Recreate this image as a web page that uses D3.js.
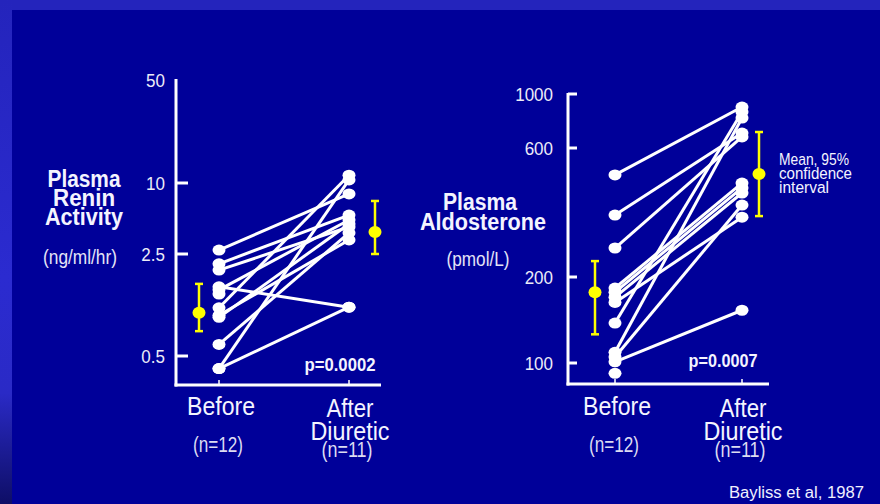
<!DOCTYPE html>
<html><head><meta charset="utf-8">
<script src="https://cdn.jsdelivr.net/npm/d3@7"></script>
<style>html,body{margin:0;padding:0;background:#000099;}svg{display:block;}</style>
</head><body>
<script>
// ---------- DATA ----------
const categories = ["Before", "After"];
const reninTicks = [50, 10, 2.5, 0.5];
const reninBefore = [2.70, 2.14, 1.94, 1.49, 1.42, 1.33, 1.07, 0.95, 0.92, 0.60, 0.41, 0.41];
const reninAfter  = [8.07, 5.35, 4.24, 1.08, 4.86, null, 11.3, 3.29, 4.49, 3.77, 10.5, 1.08];
const reninMean = [0.99, 3.84];
const reninLow  = [0.74, 2.5];
const reninHigh = [1.56, 7.04];
const aldoTicks = [1000, 600, 200, 100];
const aldoBefore = [477, 339, 256, 183, 177, 170, 163, 138, 109, 105, 101, 92];
const aldoAfter  = [884, 691, 666, 445, 427, 409, 333, 844, 797, 369, 153, null];
const aldoMean = [177, 481];
const aldoLow  = [126, 336];
const aldoHigh = [229, 698];

const W = 880, H = 504;
const svg = d3.select("body").append("svg").attr("width", W).attr("height", H);

// background
const defs = svg.append("defs");
const lg = defs.append("linearGradient").attr("id", "band").attr("x1", 0).attr("y1", 0).attr("x2", 0).attr("y2", 1);
[[0, "#2424bc"], [0.55, "#2b2bd0"], [0.78, "#2a2ac6"], [1, "#0e0e66"]].forEach(([o, c]) =>
  lg.append("stop").attr("offset", o).attr("stop-color", c));
svg.append("rect").attr("width", W).attr("height", H).attr("fill", "#000099");
svg.append("rect").attr("width", W).attr("height", 10).attr("fill", "#2424bc");
svg.append("rect").attr("width", 12).attr("height", H).attr("fill", "url(#band)");

const SANS = "'Liberation Sans', Arial, sans-serif";
function txt(str, x, y, o) {
  const g = svg.append("g").attr("transform", `translate(${x},${y}) scale(1,${o.sy || 1})`);
  const t = g.append("text").text(str)
    .attr("font-family", SANS).attr("font-size", o.size)
    .attr("font-weight", o.weight || "normal")
    .attr("text-anchor", o.anchor || "middle")
    .attr("fill", o.fill || "#f4f4ff");
  if (o.len) t.attr("textLength", o.len).attr("lengthAdjust", "spacingAndGlyphs");
  return t;
}

function panel(cfg) {
  const { y, x, xm, before, after, mean, low, high, ticks, tickX, axisX, axisBottom, axisRight } = cfg;
  const g = svg.append("g");
  // axes
  g.append("line").attr("x1", axisX).attr("x2", axisX).attr("y1", y(ticks[0]) - 1).attr("y2", axisBottom + 1.5)
    .attr("stroke", "#fff").attr("stroke-width", 3);
  g.append("line").attr("x1", axisX - 1.5).attr("x2", axisRight).attr("y1", axisBottom).attr("y2", axisBottom)
    .attr("stroke", "#fff").attr("stroke-width", 3);
  ticks.forEach((t, i) => {
    if (!(cfg.noTopTick && i === 0))
      g.append("line").attr("x1", axisX).attr("x2", axisX + cfg.tickLen).attr("y1", y(t)).attr("y2", y(t))
        .attr("stroke", "#fff").attr("stroke-width", 3);
    txt(String(t), tickX, y(t) + 6.5, { size: 17, anchor: "end", sy: 1.08, fill: "#ececf8" });
  });
  categories.forEach(c => {
    g.append("line").attr("x1", x(c)).attr("x2", x(c)).attr("y1", axisBottom - 5).attr("y2", axisBottom)
      .attr("stroke", "#fff").attr("stroke-width", 1.5);
  });
  // connecting lines
  before.forEach((b, i) => {
    if (after[i] == null) return;
    g.append("line").attr("x1", x("Before")).attr("y1", y(b)).attr("x2", x("After")).attr("y2", y(after[i]))
      .attr("stroke", "#fff").attr("stroke-width", 3);
  });
  // points
  before.forEach(b => g.append("ellipse").attr("cx", x("Before")).attr("cy", y(b)).attr("rx", 6.5).attr("ry", 5.5).attr("fill", "#fff"));
  after.forEach(a => { if (a != null) g.append("ellipse").attr("cx", x("After")).attr("cy", y(a)).attr("rx", 6.5).attr("ry", 5.5).attr("fill", "#fff"); });
  // mean + CI
  categories.forEach((c, i) => {
    const cx = xm(c);
    g.append("line").attr("x1", cx).attr("x2", cx).attr("y1", y(low[i])).attr("y2", y(high[i]))
      .attr("stroke", "#ffff00").attr("stroke-width", 2.5);
    [low[i], high[i]].forEach(v => g.append("line").attr("x1", cx - 4).attr("x2", cx + 4).attr("y1", y(v)).attr("y2", y(v))
      .attr("stroke", "#ffff00").attr("stroke-width", 2.5));
    g.append("ellipse").attr("cx", cx).attr("cy", y(mean[i])).attr("rx", 6.5).attr("ry", 6).attr("fill", "#ffff00");
  });
}

// ---------- LEFT PANEL ----------
const yRenin = d3.scaleLog().domain([0.5, 2.5, 10, 50]).range([356, 254, 183, 80]);
const xL = d3.scalePoint().domain(categories).range([219, 349]);
const xLm = d3.scalePoint().domain(categories).range([199, 375]);
panel({ y: yRenin, x: xL, xm: xLm, before: reninBefore, after: reninAfter, mean: reninMean, low: reninLow, high: reninHigh,
  ticks: reninTicks, tickX: 165, axisX: 176, axisBottom: 385, axisRight: 381, tickLen: 12, noTopTick: true });

// ---------- RIGHT PANEL ----------
const yAldo = d3.scaleLog().domain([100, 200, 600, 1000]).range([363, 277, 148, 94]);
const xR = d3.scalePoint().domain(categories).range([615, 742]);
const xRm = d3.scalePoint().domain(categories).range([595, 759]);
panel({ y: yAldo, x: xR, xm: xRm, before: aldoBefore, after: aldoAfter, mean: aldoMean, low: aldoLow, high: aldoHigh,
  ticks: aldoTicks, tickX: 553, axisX: 568, axisBottom: 384, axisRight: 769, tickLen: 9 });

// ---------- TEXT ----------
txt("Plasma", 84, 187, { size: 21, weight: "bold", sy: 1.15, len: 73 });
txt("Renin", 84, 206, { size: 21, weight: "bold", sy: 1.15, len: 62 });
txt("Activity", 84, 225, { size: 21, weight: "bold", sy: 1.15, len: 78 });
txt("(ng/ml/hr)", 80, 264, { size: 17, sy: 1.2, len: 74, fill: "#e4e4f6" });

txt("Plasma", 480, 210, { size: 21, weight: "bold", sy: 1.15, len: 74 });
txt("Aldosterone", 483, 230, { size: 21, weight: "bold", sy: 1.15, len: 126 });
txt("(pmol/L)", 478, 266, { size: 17, sy: 1.2, len: 63, fill: "#e4e4f6" });

[[xL, 0], [xR, 1]].forEach(([x, k]) => {
  txt("Before", x("Before") + 2, 415, { size: 23, sy: 1.1, len: 68 });
  txt("(n=12)", x("Before") - 1, 452, { size: 17, sy: 1.25, len: 50, fill: "#dcdcf2" });
  txt("After", x("After") + 1, 417, { size: 23, sy: 1.1, len: 47 });
  txt("Diuretic", x("After") + 1, 440, { size: 23, sy: 1.1, len: 79 });
  txt("(n=11)", x("After") - 2, 457, { size: 17, sy: 1.25, len: 51, fill: "#dcdcf2" });
});

txt("p=0.0002", 340, 371, { size: 19, weight: "bold", len: 71 });
txt("p=0.0007", 723, 367, { size: 19, weight: "bold", len: 69 });

txt("Mean, 95%", 779, 165, { size: 15, anchor: "start", sy: 1.12, len: 70 });
txt("confidence", 779, 179, { size: 15, anchor: "start", sy: 1.12, len: 73 });
txt("interval", 779, 193, { size: 15, anchor: "start", sy: 1.12, len: 50 });

txt("Bayliss et al, 1987", 729, 498, { size: 16, anchor: "start", len: 135, fill: "#f0f0ff" });
</script>
</body></html>
